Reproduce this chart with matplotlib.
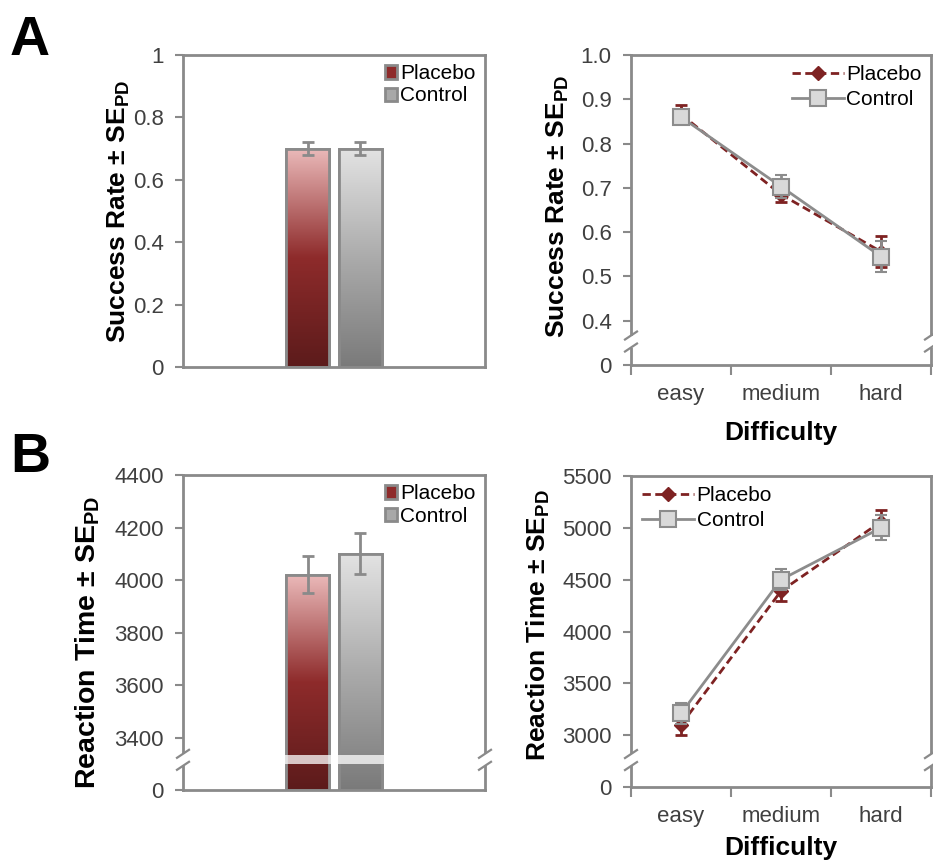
import numpy as np
import matplotlib
matplotlib.use('Agg')
import matplotlib.pyplot as plt
from matplotlib.colors import LinearSegmentedColormap
from matplotlib.lines import Line2D
from matplotlib.patches import Rectangle

plt.rcParams['font.family'] = ['Liberation Sans', 'DejaVu Sans']

# ---------------- data ----------------
groups = ['Placebo', 'Control']
difficulty = ['easy', 'medium', 'hard']

sr_bar_mean = [0.70, 0.70]
sr_bar_err = [0.02, 0.02]
rt_bar_mean = [4020, 4100]
rt_bar_err = [70, 78]

sr_placebo = [0.866, 0.685, 0.556]
sr_placebo_err = [0.020, 0.018, 0.035]
sr_control = [0.860, 0.703, 0.545]
sr_control_err = [0.012, 0.025, 0.035]

rt_placebo = [3100, 4390, 5060]
rt_placebo_err = [100, 100, 110]
rt_control = [3210, 4500, 5000]
rt_control_err = [100, 100, 120]

sr_bar_ticks = [0, 0.2, 0.4, 0.6, 0.8, 1.0]
sr_bar_ticklabels = ['0', '0.2', '0.4', '0.6', '0.8', '1']
sr_line_ticks = [0.3, 0.4, 0.5, 0.6, 0.7, 0.8, 0.9, 1.0]
sr_line_ticklabels = ['0', '0.4', '0.5', '0.6', '0.7', '0.8', '0.9', '1.0']
rt_bar_ticks = [3200, 3400, 3600, 3800, 4000, 4200, 4400]
rt_bar_ticklabels = ['0', '3400', '3600', '3800', '4000', '4200', '4400']
rt_line_ticks = [2500, 3000, 3500, 4000, 4500, 5000, 5500]
rt_line_ticklabels = ['0', '3000', '3500', '4000', '4500', '5000', '5500']

# ---------------- style ----------------
GRAY = '#8a8a8a'
TICKC = '#404040'
PLAC = '#7e2222'
CTRL = '#8c8c8c'
PLAC_MID = '#8e2b2b'
CTRL_MID = '#a8a8a8'
cmap_plac = LinearSegmentedColormap.from_list('plac', [(0, '#5c1b1b'), (0.5, '#8e2b2b'), (1, '#ebbaba')])
cmap_ctrl = LinearSegmentedColormap.from_list('ctrl', [(0, '#7a7a7a'), (0.5, '#ababab'), (1, '#e3e3e3')])

W, H = 933, 863
fig = plt.figure(figsize=(W / 100, H / 100), dpi=100)


def px_axes(l, r, t, b):
    return fig.add_axes([l / W, 1 - b / H, (r - l) / W, (b - t) / H])


ax1 = px_axes(183, 485, 55, 367)
ax2 = px_axes(631, 931, 55, 365)
ax3 = px_axes(183, 485, 475, 790)
ax4 = px_axes(631, 931, 476, 787)


def style(ax):
    for s in ax.spines.values():
        s.set_color(GRAY)
        s.set_linewidth(2)
    ax.tick_params(axis='y', direction='out', length=6, width=1.5, color=GRAY,
                   labelsize=16, labelcolor=TICKC, pad=8)


def add_break(ax, ybreak):
    bbox = ax.get_position()
    wpx = bbox.width * W
    hpx = bbox.height * H
    y0, y1 = ax.get_ylim()
    yc = (ybreak - y0) / (y1 - y0)
    off = 6 / hpx
    dx = 6 / wpx
    dy = 4 / hpx
    for xs in (0, 1):
        ax.add_patch(Rectangle((xs - 3 / wpx, yc - off), 6 / wpx, 2 * off, transform=ax.transAxes,
                               facecolor='white', edgecolor='none', clip_on=False, zorder=5))
        for s in (-1, 1):
            yy = yc + s * off
            ax.add_line(Line2D([xs - dx, xs + dx], [yy - dy, yy + dy], transform=ax.transAxes,
                               color=GRAY, lw=1.6, clip_on=False, zorder=6))


def bar_panel(ax, means, errs, floor, top, ticks, ticklabels, ylabel, label_xy, label_size):
    style(ax)
    x = np.array([-0.175, 0.175])
    heights = np.array(means) - floor
    bars = ax.bar(x, heights, bottom=floor, width=0.29, color=[PLAC_MID, CTRL_MID],
                  edgecolor=GRAY, linewidth=2, zorder=2)
    grad = np.linspace(0, 1, 256).reshape(-1, 1)
    for patch, cm in zip(bars.patches, [cmap_plac, cmap_ctrl]):
        x0, y0 = patch.get_x(), patch.get_y()
        im = ax.imshow(grad, cmap=cm, origin='lower', aspect='auto', zorder=2.05,
                       extent=[x0, x0 + patch.get_width(), y0, y0 + patch.get_height()])
        im.set_clip_path(patch)
    ax.bar(x, heights, bottom=floor, width=0.29, fill=False, edgecolor=GRAY, linewidth=2, zorder=2.2)
    ax.errorbar(x, means, yerr=errs, fmt='none', ecolor=GRAY, elinewidth=2, capsize=4,
                capthick=2, zorder=3)
    ax.set_xlim(-1, 1)
    ax.set_ylim(floor, top)
    ax.set_yticks(ticks)
    ax.set_yticklabels(ticklabels)
    ax.set_xticks([])
    ax.set_ylabel(ylabel, fontsize=label_size, fontweight='bold', va='center')
    ax.yaxis.set_label_coords(*label_xy)
    ax.legend(handles=bars.patches, labels=groups, loc='upper right', frameon=False, fontsize=15,
              handlelength=0.6, handleheight=0.6, handletextpad=0.15, borderaxespad=0.05,
              labelspacing=0.15, bbox_to_anchor=(1.0, 1.0))
    return bars


def line_panel(ax, plac, perr, ctrl, cerr, bottom, top, ticks, ticklabels, ylabel, label_xy,
               legloc, leganchor, xlabelpad):
    style(ax)
    xs = np.arange(len(difficulty))
    e1 = ax.errorbar(xs, plac, yerr=perr, color=PLAC, ls='--', dashes=(3, 1.6), lw=2, marker='D',
                     ms=7, mfc=PLAC, mec=PLAC, ecolor=PLAC, elinewidth=2, capsize=4, capthick=2,
                     zorder=3)
    e2 = ax.errorbar(xs, ctrl, yerr=cerr, color=CTRL, ls='-', lw=2, marker='s', ms=11,
                     mfc='#d9d9d9', mec=CTRL, mew=1.5, ecolor=CTRL, elinewidth=2, capsize=4,
                     capthick=2, zorder=4)
    ax.set_xlim(-0.5, len(difficulty) - 0.5)
    ax.set_ylim(bottom, top)
    ax.set_yticks(ticks)
    ax.set_yticklabels(ticklabels)
    ax.set_xticks(xs)
    ax.set_xticklabels(difficulty)
    ax.set_xticks(np.arange(-0.5, len(difficulty)), minor=True)
    ax.tick_params(axis='x', which='major', length=0, labelsize=16, labelcolor=TICKC, pad=14)
    ax.tick_params(axis='x', which='minor', length=7, width=1.5, color=GRAY, direction='out')
    ax.set_xlabel('Difficulty', fontsize=19, fontweight='bold', labelpad=xlabelpad)
    ax.set_ylabel(ylabel, fontsize=19, fontweight='bold', va='center')
    ax.yaxis.set_label_coords(*label_xy)
    ax.legend(handles=[e1[0], e2[0]], labels=groups, loc=legloc, bbox_to_anchor=leganchor,
              frameon=False, fontsize=15, handlelength=2.5, handletextpad=0.1, borderaxespad=0.0,
              labelspacing=0.3, numpoints=1)


sr_label = 'Success Rate \u00b1 SE$_\\mathregular{PD}$'
rt_label = 'Reaction Time \u00b1 SE$_\\mathregular{PD}$'

bar_panel(ax1, sr_bar_mean, sr_bar_err, 0, 1.0, sr_bar_ticks, sr_bar_ticklabels, sr_label,
          (-0.212, 0.5), 19)
line_panel(ax2, sr_placebo, sr_placebo_err, sr_control, sr_control_err, 0.3, 1.0,
           sr_line_ticks, sr_line_ticklabels, sr_label, (-0.245, 0.51), 'upper right',
           (0.995, 0.995), 11)
add_break(ax2, 0.353)

bar_panel(ax3, rt_bar_mean, rt_bar_err, 3200, 4400, rt_bar_ticks, rt_bar_ticklabels, rt_label,
          (-0.315, 0.47), 20.5)
ax3.axhspan(3298, 3335, color='white', alpha=0.75, lw=0, zorder=2.3)
add_break(ax3, 3315)

line_panel(ax4, rt_placebo, rt_placebo_err, rt_control, rt_control_err, 2500, 5500,
           rt_line_ticks, rt_line_ticklabels, rt_label, (-0.31, 0.52), 'upper left',
           (0.01, 0.995), 6)
add_break(ax4, 2760)

fig.text(10 / W, 1 - 55 / H, 'A', fontsize=40, fontweight='bold', va='baseline', ha='left')
fig.text(10 / W, 1 - 472 / H, 'B', fontsize=40, fontweight='bold', va='baseline', ha='left')

fig.savefig('out.png', dpi=100)
